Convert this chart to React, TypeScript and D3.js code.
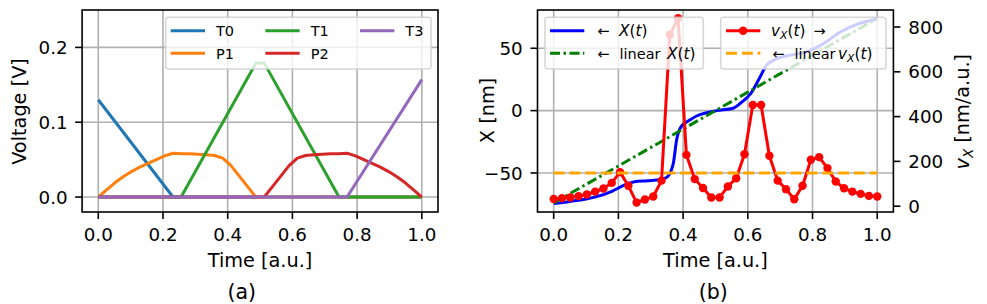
import * as d3 from "d3";

// sample grid used by the simulation (40 equally spaced steps)
const sampleTimes = d3.range(40).map((i) => i / 39);

// (a) gate voltages [V]
const t0Times = [0, 0.231, 1];
const t0Values = [0.13, 0, 0];
const t1Times = [0, 0.256, 0.487, 0.513, 0.744, 1];
const t1Values = [0, 0, 0.179, 0.179, 0, 0];
const t3Times = [0, 0.769, 1];
const t3Values = [0, 0, 0.157];
const p1Values = [
  0, 0.0095, 0.019, 0.027, 0.034, 0.04, 0.045, 0.05, 0.055, 0.0585, 0.058,
  0.0578, 0.0573, 0.0565, 0.0555, 0.052, 0.042, 0.028, 0.014, 0, 0, 0, 0, 0,
  0, 0, 0, 0, 0, 0, 0, 0, 0, 0, 0, 0, 0, 0, 0, 0,
];
const p2Values = [
  0, 0, 0, 0, 0, 0, 0, 0, 0, 0, 0, 0, 0, 0, 0, 0, 0, 0, 0, 0, 0, 0.014, 0.028,
  0.042, 0.052, 0.0555, 0.0565, 0.0573, 0.0578, 0.058, 0.0585, 0.055, 0.05,
  0.045, 0.04, 0.034, 0.027, 0.019, 0.0095, 0,
];

// (b) position X(t) [nm] and velocity v_X(t) [nm/a.u.]
const posTimes = [
  0, 0.05, 0.1, 0.13, 0.18, 0.22, 0.25, 0.29, 0.33, 0.35, 0.36, 0.37, 0.38,
  0.394, 0.422, 0.44, 0.473, 0.504, 0.555, 0.58, 0.61, 0.638, 0.658, 0.68,
  0.731, 0.782, 0.834, 0.886, 0.937, 1,
];
const posValues = [
  -74.5, -72.8, -70.8, -69.2, -64.7, -59.6, -57, -56.2, -55.3, -53.5, -50,
  -42, -23.4, -12.8, -7.4, -4.5, -1.6, 0, 1.9, 6.5, 14, 27, 36.5, 40.5, 44.5,
  47.1, 53.8, 63.1, 69.2, 73.5,
];
const linearPosTimes = [0, 1];
const linearPosValues = [-74, 74];
const velValues = [
  32, 36, 39, 45, 52, 65, 79, 104, 152, 91, 16, 30, 43, 114, 765, 839, 229,
  121, 81, 39, 39, 88, 125, 232, 452, 452, 225, 114, 76, 31, 91, 207, 219, 170,
  110, 80, 65, 55, 46, 43,
];
const linearVelTimes = [0, 1];
const linearVelValues = [148, 148];

const xTicks = [0, 0.2, 0.4, 0.6, 0.8, 1.0];
const voltTicks = [0, 0.1, 0.2];
const posTicks = [-50, 0, 50];
const velTicks = [0, 200, 400, 600, 800];

const FONT = "DejaVu Sans, sans-serif";
const TICK_FS = 18.3;
const LABEL_FS = 19.3;
const LEGEND_FS = 14.5;
const MATH_FS = 15.3;
const GRID = "#b0b0b0";
const DASHED = "11,4.8";
const DASHDOT = "10,3.5,2.5,3.5";

const boxA = { left: 82.1, right: 438, top: 10, bottom: 212 };
const boxB = { left: 537.5, right: 893.4, top: 10, bottom: 212 };

const fmt1 = d3.format(".1f");
const fmtInt = d3.format("d");

// mathtext-like pieces, placed at an absolute x
const Xt = ({ x }: { x: number }) => (
  <>
    <tspan x={x} fontStyle="italic" fontSize={MATH_FS}>
      X
    </tspan>
    <tspan fontSize={MATH_FS}>(</tspan>
    <tspan fontStyle="italic" fontSize={MATH_FS}>
      t
    </tspan>
    <tspan fontSize={MATH_FS}>)</tspan>
  </>
);
const VXt = ({ x }: { x: number }) => (
  <>
    <tspan x={x} fontStyle="italic" fontSize={MATH_FS}>
      v
    </tspan>
    <tspan fontStyle="italic" fontSize={10.8} dy={3}>
      X
    </tspan>
    <tspan dy={-3} fontSize={MATH_FS}>
      (
    </tspan>
    <tspan fontStyle="italic" fontSize={MATH_FS}>
      t
    </tspan>
    <tspan fontSize={MATH_FS}>)</tspan>
  </>
);

type Entry = {
  label: React.ReactNode;
  color: string;
  dash?: string;
  marker?: boolean;
};

const Legend = ({
  x,
  y,
  w,
  h,
  items,
}: {
  x: number;
  y: number;
  w: number;
  h: number;
  items: { entry: Entry; hx: number; tx: number; ry: number }[];
}) => (
  <g>
    <rect
      x={x}
      y={y}
      width={w}
      height={h}
      rx={3}
      fill="white"
      fillOpacity={0.8}
      stroke="#cccccc"
      strokeOpacity={0.8}
      strokeWidth={1.6}
    />
    {items.map(({ entry, hx, tx, ry }, i) => (
      <g key={i}>
        <line
          x1={hx}
          x2={hx + 34.3}
          y1={ry}
          y2={ry}
          stroke={entry.color}
          strokeWidth={3}
          strokeDasharray={entry.dash}
        />
        {entry.marker && (
          <circle cx={hx + 17.15} cy={ry} r={4.2} fill={entry.color} />
        )}
        <text
          x={tx}
          y={ry + 5.3}
          fontSize={LEGEND_FS}
          fontFamily={FONT}
          fill="black"
        >
          {entry.label}
        </text>
      </g>
    ))}
  </g>
);

const App = () => {
  const width = 987;
  const height = 304;

  // ---- panel (a)
  const xA = d3.scaleLinear().domain([-0.05, 1.05]).range([boxA.left, boxA.right]);
  const yA = d3.scaleLinear().domain([-0.02, 0.25]).range([boxA.bottom, boxA.top]);
  const lineA = (ts: number[], vs: number[]) =>
    d3
      .line<number>()
      .x((_, i) => xA(ts[i]))
      .y((v) => yA(v))(vs) ?? "";

  // ---- panel (b)
  const xB = d3.scaleLinear().domain([-0.05, 1.05]).range([boxB.left, boxB.right]);
  const yPos = d3.scaleLinear().domain([-81.3, 80.7]).range([boxB.bottom, boxB.top]);
  const yVel = d3.scaleLinear().domain([-26, 876]).range([boxB.bottom, boxB.top]);
  const linePos = (ts: number[], vs: number[], curve = d3.curveLinear) =>
    d3
      .line<number>()
      .x((_, i) => xB(ts[i]))
      .y((v) => yPos(v))
      .curve(curve)(vs) ?? "";
  const lineVel = (ts: number[], vs: number[]) =>
    d3
      .line<number>()
      .x((_, i) => xB(ts[i]))
      .y((v) => yVel(v))(vs) ?? "";

  const seriesA = [
    { name: "T0", color: "#1f77b4", d: lineA(t0Times, t0Values) },
    { name: "P1", color: "#ff7f0e", d: lineA(sampleTimes, p1Values) },
    { name: "T1", color: "#2ca02c", d: lineA(t1Times, t1Values) },
    { name: "P2", color: "#d62728", d: lineA(sampleTimes, p2Values) },
    { name: "T3", color: "#9467bd", d: lineA(t3Times, t3Values) },
  ];

  const frame = (b: typeof boxA) => (
    <rect
      x={b.left}
      y={b.top}
      width={b.right - b.left}
      height={b.bottom - b.top}
      fill="none"
      stroke="black"
      strokeWidth={1.6}
    />
  );

  const xAxis = (scale: d3.ScaleLinear<number, number>, b: typeof boxA) => (
    <g>
      {xTicks.map((t) => (
        <g key={t}>
          <line
            x1={scale(t)}
            x2={scale(t)}
            y1={b.bottom}
            y2={b.bottom + 7}
            stroke="black"
            strokeWidth={1.6}
          />
          <text
            x={scale(t)}
            y={240.5}
            textAnchor="middle"
            fontSize={TICK_FS}
            fontFamily={FONT}
          >
            {fmt1(t)}
          </text>
        </g>
      ))}
      <text
        x={(b.left + b.right) / 2}
        y={267.2}
        textAnchor="middle"
        fontSize={LABEL_FS}
        fontFamily={FONT}
      >
        Time [a.u.]
      </text>
    </g>
  );

  const grid = (
    xs: d3.ScaleLinear<number, number>,
    ys: d3.ScaleLinear<number, number>,
    yt: number[],
    b: typeof boxA
  ) => (
    <g stroke={GRID} strokeWidth={1.6}>
      {xTicks.map((t) => (
        <line key={"x" + t} x1={xs(t)} x2={xs(t)} y1={b.top} y2={b.bottom} />
      ))}
      {yt.map((t) => (
        <line key={"y" + t} x1={b.left} x2={b.right} y1={ys(t)} y2={ys(t)} />
      ))}
    </g>
  );

  const legendA = [0, 1, 2, 3, 4].map((i) => {
    const col = Math.floor(i / 2);
    const row = i % 2;
    const s = seriesA[i];
    return {
      entry: { label: s.name, color: s.color },
      hx: 170.7 + col * 94.65,
      tx: 216 + col * 94.65,
      ry: 30.7 + row * 22.6,
    };
  });

  return (
    <svg
      width={width}
      height={height}
      style={{ position: "absolute", left: 0, top: 0, background: "white" }}
    >
      {/* ---------------- panel (a) ---------------- */}
      {grid(xA, yA, voltTicks, boxA)}
      {seriesA.map((s) => (
        <path
          key={s.name}
          d={s.d}
          fill="none"
          stroke={s.color}
          strokeWidth={3}
          strokeLinejoin="round"
        />
      ))}
      {frame(boxA)}
      {voltTicks.map((t) => (
        <g key={t}>
          <line
            x1={boxA.left - 7}
            x2={boxA.left}
            y1={yA(t)}
            y2={yA(t)}
            stroke="black"
            strokeWidth={1.6}
          />
          <text
            x={67.7}
            y={yA(t) + 6.6}
            textAnchor="end"
            fontSize={TICK_FS}
            fontFamily={FONT}
          >
            {fmt1(t)}
          </text>
        </g>
      ))}
      {xAxis(xA, boxA)}
      <text
        transform="translate(25.7,111.5) rotate(-90)"
        textAnchor="middle"
        fontSize={LABEL_FS}
        fontFamily={FONT}
      >
        Voltage [V]
      </text>
      <Legend x={165.7} y={17.3} w={265.3} h={51.7} items={legendA} />
      <text
        x={241.7}
        y={298.9}
        textAnchor="middle"
        fontSize={20.5}
        fontFamily={FONT}
      >
        (a)
      </text>

      {/* ---------------- panel (b) ---------------- */}
      {grid(xB, yPos, posTicks, boxB)}
      <path
        d={linePos(posTimes, posValues, d3.curveMonotoneX)}
        fill="none"
        stroke="blue"
        strokeWidth={3}
      />
      <path
        d={linePos(linearPosTimes, linearPosValues)}
        fill="none"
        stroke="green"
        strokeWidth={3}
        strokeDasharray={DASHDOT}
      />
      <path
        d={lineVel(sampleTimes, velValues)}
        fill="none"
        stroke="red"
        strokeWidth={3}
        strokeLinejoin="round"
      />
      {velValues.map((v, i) => (
        <circle key={i} cx={xB(sampleTimes[i])} cy={yVel(v)} r={4.2} fill="red" />
      ))}
      <path
        d={lineVel(linearVelTimes, linearVelValues)}
        fill="none"
        stroke="orange"
        strokeWidth={3}
        strokeDasharray={DASHED}
      />
      {frame(boxB)}
      {posTicks.map((t) => (
        <g key={t}>
          <line
            x1={boxB.left - 7}
            x2={boxB.left}
            y1={yPos(t)}
            y2={yPos(t)}
            stroke="black"
            strokeWidth={1.6}
          />
          <text
            x={522.7}
            y={yPos(t) + 6.6}
            textAnchor="end"
            fontSize={TICK_FS}
            fontFamily={FONT}
          >
            {fmtInt(t)}
          </text>
        </g>
      ))}
      {velTicks.map((t) => (
        <g key={t}>
          <line
            x1={boxB.right}
            x2={boxB.right + 7}
            y1={yVel(t)}
            y2={yVel(t)}
            stroke="black"
            strokeWidth={1.6}
          />
          <text
            x={908.3}
            y={yVel(t) + 6.6}
            textAnchor="start"
            fontSize={TICK_FS}
            fontFamily={FONT}
          >
            {fmtInt(t)}
          </text>
        </g>
      ))}
      {xAxis(xB, boxB)}
      <text
        transform="translate(493.5,110.5) rotate(-90)"
        textAnchor="middle"
        fontSize={LABEL_FS}
        fontFamily={FONT}
      >
        X [nm]
      </text>
      <text
        transform="translate(968.5,111.7) rotate(-90)"
        textAnchor="middle"
        fontSize={LABEL_FS}
        fontFamily={FONT}
      >
        <tspan fontStyle="italic">v</tspan>
        <tspan fontStyle="italic" fontSize={13.5} dy={4}>
          X
        </tspan>
        <tspan dy={-4}> [nm/a.u.]</tspan>
      </text>
      <Legend
        x={545}
        y={17.3}
        w={158.3}
        h={51.7}
        items={[
          {
            entry: {
              label: (
                <>
                  <tspan x={597.3}>←</tspan>
                  <Xt x={619} />
                </>
              ),
              color: "blue",
            },
            hx: 550,
            tx: 597.3,
            ry: 30.7,
          },
          {
            entry: {
              label: (
                <>
                  <tspan x={597.3}>←</tspan>
                  <tspan x={619.5}>linear</tspan>
                  <Xt x={667} />
                </>
              ),
              color: "green",
              dash: DASHDOT,
            },
            hx: 550,
            tx: 597.3,
            ry: 53.3,
          },
        ]}
      />
      <Legend
        x={720.7}
        y={17.3}
        w={165.3}
        h={51.7}
        items={[
          {
            entry: {
              label: (
                <>
                  <VXt x={771} />
                  <tspan x={813.5}>→</tspan>
                </>
              ),
              color: "red",
              marker: true,
            },
            hx: 726,
            tx: 771,
            ry: 30.7,
          },
          {
            entry: {
              label: (
                <>
                  <tspan x={772.3}>←</tspan>
                  <tspan x={794.5}>linear</tspan>
                  <VXt x={838} />
                </>
              ),
              color: "orange",
              dash: DASHED,
            },
            hx: 726,
            tx: 772.3,
            ry: 53.3,
          },
        ]}
      />
      <text
        x={713.3}
        y={298.9}
        textAnchor="middle"
        fontSize={20.5}
        fontFamily={FONT}
      >
        (b)
      </text>
    </svg>
  );
};

export default App;
